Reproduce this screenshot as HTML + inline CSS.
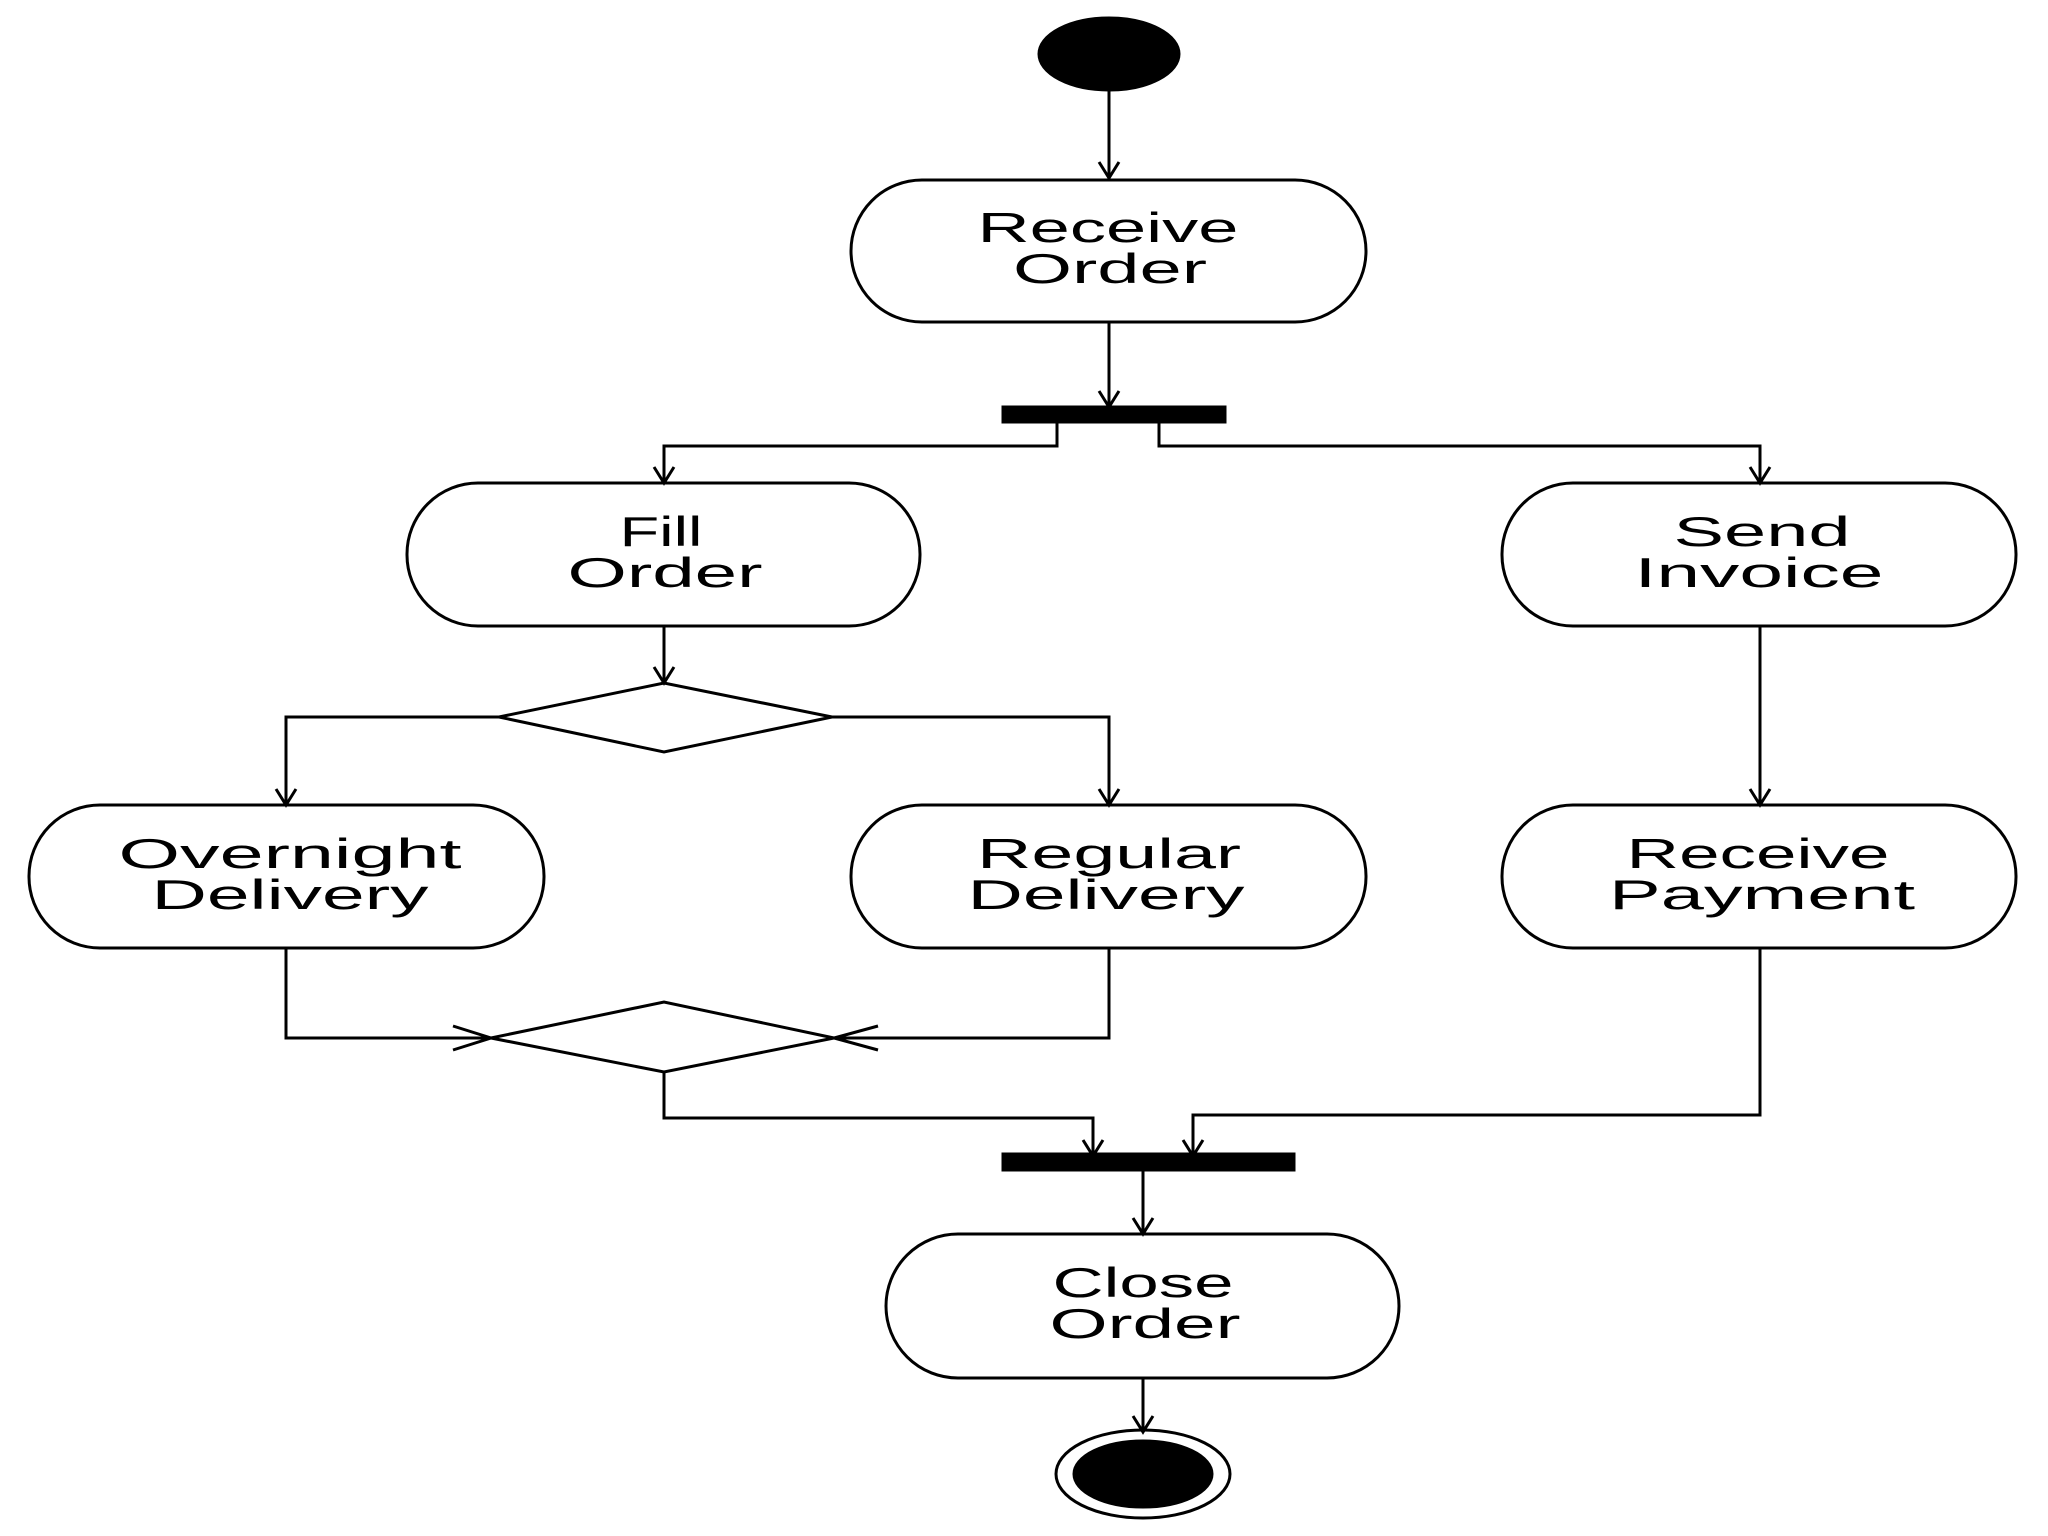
<!DOCTYPE html>
<html><head><meta charset="utf-8"><style>html,body{margin:0;padding:0;background:#fff}svg{display:block}</style></head><body>
<svg width="2048" height="1536" viewBox="0 0 2048 1536" xmlns="http://www.w3.org/2000/svg">
<defs>
<marker id="a" viewBox="0 0 20 20" refX="10" refY="18" markerWidth="20" markerHeight="20" markerUnits="userSpaceOnUse" orient="auto-start-reverse">
</marker>
</defs>
<g fill="none" stroke="#000" stroke-width="3">
<!-- start -->
<ellipse cx="1109" cy="54" rx="70" ry="36" fill="#000"/>
<path d="M1109 90V178"/>
<rect x="851" y="180" width="515" height="142" rx="71" ry="71"/>
<path d="M1109 322V407"/>
<rect x="1003" y="407" width="222" height="15" fill="#000"/>
<path d="M1057 422V446H664V483"/>
<path d="M1159 422V446H1760V483"/>
<rect x="407" y="483" width="513" height="143" rx="71" ry="71"/>
<rect x="1502" y="483" width="514" height="143" rx="71" ry="71"/>
<path d="M664 626V683"/>
<polygon points="499,717 664,683 832,717 664,752"/>
<path d="M499 717H286V805"/>
<path d="M832 717H1109V805"/>
<path d="M1760 626V805"/>
<rect x="29" y="805" width="515" height="143" rx="71" ry="71"/>
<rect x="851" y="805" width="515" height="143" rx="71" ry="71"/>
<rect x="1502" y="805" width="514" height="143" rx="71" ry="71"/>
<path d="M286 948V1038H491"/>
<path d="M1109 948V1038H834"/>
<polygon points="491,1038 664,1002 834,1038 664,1072"/>
<path d="M664 1072V1118H1093V1156"/>
<path d="M1760 948V1115H1193V1156"/>
<rect x="1003" y="1154" width="291" height="16" fill="#000"/>
<path d="M1143 1170V1234"/>
<rect x="886" y="1234" width="513" height="144" rx="72" ry="72"/>
<path d="M1143 1378V1432"/>
<ellipse cx="1143" cy="1474" rx="87" ry="44"/>
<ellipse cx="1143" cy="1474" rx="69" ry="33" fill="#000"/>
<!-- arrowheads -->
<path d="M1099 162L1109 178L1119 162"/>
<path d="M1099 391L1109 407L1119 391"/>
<path d="M654 467L664 483L674 467"/>
<path d="M1750 467L1760 483L1770 467"/>
<path d="M654 667L664 683L674 667"/>
<path d="M276 789L286 805L296 789"/>
<path d="M1099 789L1109 805L1119 789"/>
<path d="M1750 789L1760 805L1770 789"/>
<path d="M453 1026L491 1038L453 1050"/>
<path d="M878 1026L834 1038L878 1050"/>
<path d="M1083 1140L1093 1156L1103 1140"/>
<path d="M1183 1140L1193 1156L1203 1140"/>
<path d="M1133 1218L1143 1234L1153 1218"/>
<path d="M1133 1416L1143 1432L1153 1416"/>
</g>
<g font-family="Liberation Sans, sans-serif" font-size="42" text-anchor="middle" fill="#000">
<text x="1108" y="242" textLength="261" lengthAdjust="spacingAndGlyphs">Receive</text>
<text x="1110" y="283" textLength="194" lengthAdjust="spacingAndGlyphs">Order</text>
<text x="661" y="546" textLength="83" lengthAdjust="spacingAndGlyphs">Fill</text>
<text x="665" y="587" textLength="195" lengthAdjust="spacingAndGlyphs">Order</text>
<text x="1762" y="546" textLength="177" lengthAdjust="spacingAndGlyphs">Send</text>
<text x="1759" y="587" textLength="249" lengthAdjust="spacingAndGlyphs">Invoice</text>
<text x="290" y="868" textLength="343" lengthAdjust="spacingAndGlyphs">Overnight</text>
<text x="290" y="909" textLength="277" lengthAdjust="spacingAndGlyphs">Delivery</text>
<text x="1109" y="868" textLength="264" lengthAdjust="spacingAndGlyphs">Regular</text>
<text x="1106" y="909" textLength="277" lengthAdjust="spacingAndGlyphs">Delivery</text>
<text x="1758" y="868" textLength="263" lengthAdjust="spacingAndGlyphs">Receive</text>
<text x="1762" y="909" textLength="306" lengthAdjust="spacingAndGlyphs">Payment</text>
<text x="1143" y="1297" textLength="181" lengthAdjust="spacingAndGlyphs">Close</text>
<text x="1145" y="1338" textLength="191" lengthAdjust="spacingAndGlyphs">Order</text>
</g>
</svg>
</body></html>
